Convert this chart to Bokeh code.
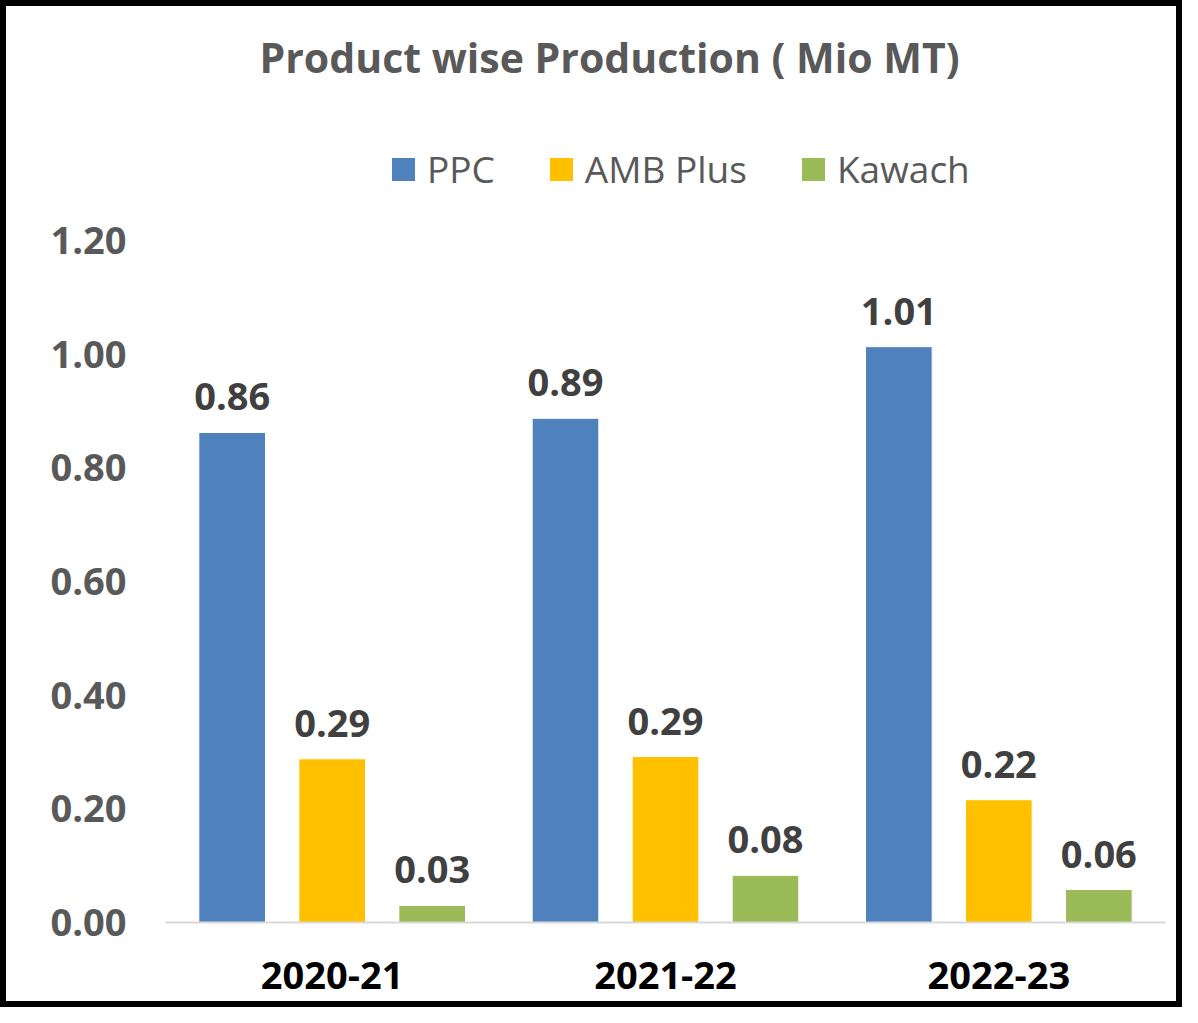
from bokeh.plotting import figure
from bokeh.models import (ColumnDataSource, FactorRange, Range1d, FixedTicker,
                          NumeralTickFormatter, LabelSet, Legend, LegendItem)
from bokeh.transform import dodge
from bokeh.core.properties import value
from bokeh.embed import file_html
from bokeh.resources import INLINE

# ---- data ----
years = ["2020-21", "2021-22", "2022-23"]
ppc = [0.862, 0.887, 1.013]
amb_plus = [0.288, 0.292, 0.216]
kawach = [0.030, 0.083, 0.058]
series_names = ["PPC", "AMB Plus", "Kawach"]
y_ticks = [0.0, 0.2, 0.4, 0.6, 0.8, 1.0, 1.2]

colors = ["#4F81BD", "#FFC000", "#9BBB59"]
offsets = [-0.3, 0.0, 0.3]
FONT = "Open Sans"

src = ColumnDataSource(dict(
    years=years, ppc=ppc, amb=amb_plus, kawach=kawach,
    ppc_lbl=[f"{v:.2f}" for v in ppc],
    amb_lbl=[f"{v:.2f}" for v in amb_plus],
    kawach_lbl=[f"{v:.2f}" for v in kawach],
))

p = figure(x_range=FactorRange(*years), y_range=Range1d(0, 1.439),
           width=1182, height=1007, output_backend="svg", toolbar_location=None,
           min_border_left=159, min_border_right=23, min_border_bottom=91,
           min_border_top=98)
p.styles = {"border": "6px solid black"}
p.outline_line_color = None
p.background_fill_color = "white"
p.border_fill_color = "white"

p.title.text = "Product wise Production ( Mio MT)"
p.title.align = "left"
p.title.offset = 94
p.title.standoff = 39
p.title.text_font = FONT
p.title.text_font_size = "41px"
p.title.text_font_style = "bold"
p.title.text_color = "#595959"

cols = ["ppc", "amb", "kawach"]
lbls = ["ppc_lbl", "amb_lbl", "kawach_lbl"]
items = []
for col, lbl, name, c, off in zip(cols, lbls, series_names, colors, offsets):
    r = p.vbar(x=dodge("years", off, range=p.x_range), top=col, width=0.2,
               source=src, fill_color=c, line_color="white", line_width=1)
    items.append(LegendItem(label=name, renderers=[r]))
    p.add_layout(LabelSet(x=dodge("years", off, range=p.x_range), y=col, text=lbl,
                          source=src, text_align="center", text_baseline="bottom",
                          y_offset=22, text_font=value(FONT), text_font_size="38px",
                          text_font_style="bold", text_color="#404040"))

legend = Legend(items=items, location=(223, 728), orientation="horizontal",
                label_text_font=FONT, label_text_font_size="37px",
                label_text_color="#595959", glyph_width=30, glyph_height=30,
                label_standoff=9, spacing=51, margin=0, padding=0,
                border_line_color=None, background_fill_alpha=0)
p.add_layout(legend)

p.xgrid.visible = False
p.ygrid.visible = False

p.yaxis.ticker = FixedTicker(ticks=y_ticks)
p.yaxis.formatter = NumeralTickFormatter(format="0.00")
p.yaxis.axis_line_color = None
p.yaxis.major_tick_line_color = None
p.yaxis.minor_tick_line_color = None
p.yaxis.major_label_standoff = 33
p.yaxis.major_label_text_font = FONT
p.yaxis.major_label_text_font_size = "38px"
p.yaxis.major_label_text_font_style = "bold"
p.yaxis.major_label_text_color = "#595959"

p.xaxis.axis_line_color = "#D9D9D9"
p.xaxis.axis_line_width = 2
p.xaxis.major_tick_line_color = None
p.xaxis.minor_tick_line_color = None
p.xaxis.major_label_standoff = 33
p.xaxis.major_label_text_font = FONT
p.xaxis.major_label_text_font_size = "38px"
p.xaxis.major_label_text_font_style = "bold"
p.xaxis.major_label_text_color = "black"

open("out.html", "w").write(file_html(p, INLINE))
